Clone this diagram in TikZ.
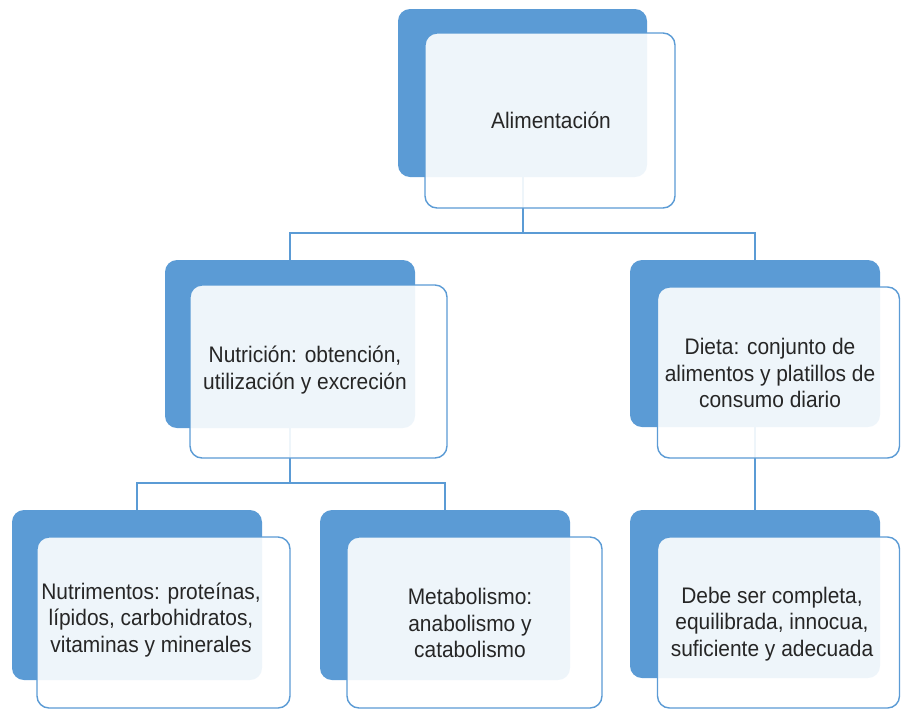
\documentclass[tikz,border=0pt]{standalone}
\usepackage{fontspec}
\setmainfont{Liberation Sans}[FakeStretch=0.93]
\definecolor{bblue}{HTML}{5B9BD5}
\definecolor{txt}{HTML}{262626}
\tikzset{
  backbox/.style={fill=bblue, draw=none, rounded corners=12pt, inner sep=0pt},
  frontbox/.style={draw=bblue, line width=1.4pt, fill=white, fill opacity=0.9, rounded corners=12pt, inner sep=0pt},
  conn/.style={draw=bblue, line width=2pt},
  label/.style={text=txt, align=center, inner sep=0pt, font=\fontsize{22.5}{26.5}\selectfont}
}
\begin{document}
\begin{tikzpicture}[x=1pt,y=-1pt]
\useasboundingbox (0,0) rectangle (901,710);
% back boxes
\node[backbox, minimum width=249pt, minimum height=168pt] (Ab) at (522.5,93) {};
\node[backbox, minimum width=250pt, minimum height=168pt] (Bb) at (290,344) {};
\node[backbox, minimum width=250pt, minimum height=167pt] (Cb) at (755,343.5) {};
\node[backbox, minimum width=250pt, minimum height=170pt] (Db) at (137,595) {};
\node[backbox, minimum width=250pt, minimum height=170pt] (Eb) at (445,595) {};
\node[backbox, minimum width=250pt, minimum height=168pt] (Fb) at (755,594) {};
% connectors
\path (Ab.south) ++(0,56) coordinate (j1);
\draw[conn] (Ab.south) -- (j1);
\draw[conn] (Bb.north) |- (j1) -| (Cb.north);
\path (Bb.south) ++(0,55) coordinate (j2);
\draw[conn] (Bb.south) -- (j2);
\draw[conn] (Db.north) |- (j2) -| (Eb.north);
\draw[conn] (Cb.south) -- (Fb.north);
% front boxes
\node[frontbox, minimum width=250pt, minimum height=175pt] (Af) at (550,120.5) {};
\node[frontbox, minimum width=257pt, minimum height=173pt] (Bf) at (318.5,371.5) {};
\node[frontbox, minimum width=242pt, minimum height=171pt] (Cf) at (778.5,372.5) {};
\node[frontbox, minimum width=253pt, minimum height=171pt] (Df) at (163.5,622.5) {};
\node[frontbox, minimum width=255pt, minimum height=171pt] (Ef) at (474.5,622.5) {};
\node[frontbox, minimum width=242pt, minimum height=171pt] (Ff) at (778.5,622.5) {};
% texts
\node[label] (At) at (551,120) {Alimentación};
\node[label] (Bt) at (305,370) {Nutrición: obtención,\\utilización y excreción};
\node[label] (Ct) at (770,373) {Dieta: conjunto de\\alimentos y platillos de\\consumo diario};
\node[label] (Dt) at (151,620) {Nutrimentos: proteínas,\\lípidos, carbohidratos,\\vitaminas y minerales};
\node[label] (Et) at (470,623) {Metabolismo:\\anabolismo y\\catabolismo};
\node[label] (Ft) at (772,624) {Debe ser completa,\\equilibrada, innocua,\\suficiente y adecuada};
\end{tikzpicture}
\end{document}
